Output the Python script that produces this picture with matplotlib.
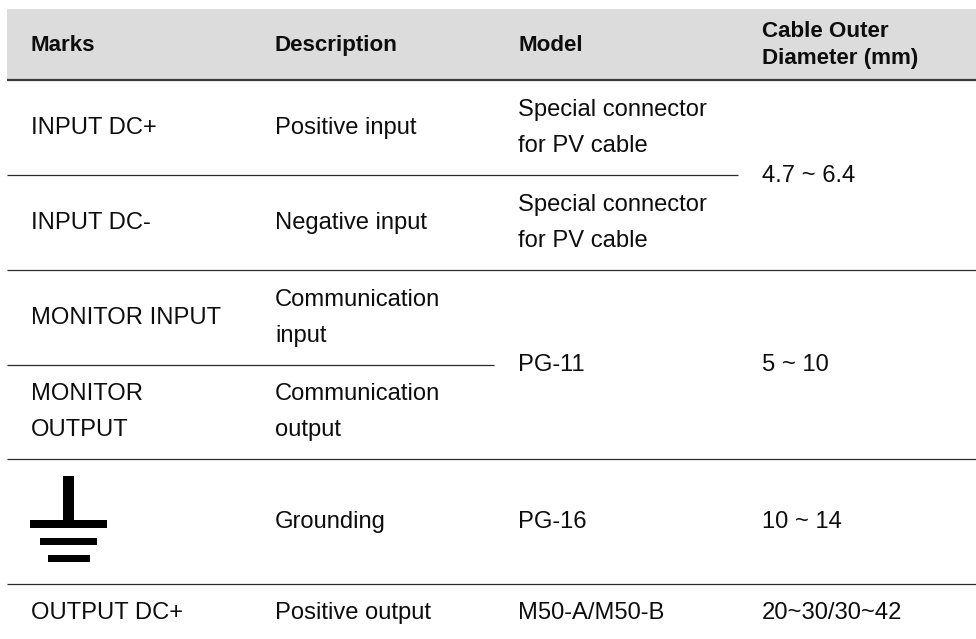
import matplotlib
matplotlib.use('Agg')
import matplotlib.pyplot as plt
from matplotlib.patches import Rectangle

plt.rcParams['font.family'] = ['Liberation Sans', 'DejaVu Sans']

# Table content
headers = ['Marks', 'Description', 'Model', 'Cable Outer\nDiameter (mm)']
marks = ['INPUT DC+', 'INPUT DC-', 'MONITOR INPUT', 'MONITOR\nOUTPUT', 'OUTPUT DC+']
descriptions = ['Positive input', 'Negative input', 'Communication\ninput',
                'Communication\noutput', 'Grounding', 'Positive output']
models = ['Special connector\nfor PV cable', 'Special connector\nfor PV cable',
          'PG-11', 'PG-16', 'M50-A/M50-B']
diameters = ['4.7 ~ 6.4', '5 ~ 10', '10 ~ 14', '20~30/30~42']

# Layout, in pixels of the 976x639 picture
col_x = [31, 275, 518.3, 761.7]
marks_y = [134, 229, 324, 418, 619]
desc_y = [134, 229, 324, 418, 528, 619]
model_y = [134, 229, 371, 528, 619]
diam_y = [182, 371, 528, 619]
# y, x start, x end
rules = [(174.5, 7, 738), (269.5, 7, 976), (364.5, 7, 494), (459, 7, 976), (584, 7, 976)]
TEXT = '#0d0d0d'
BODY_SIZE = 17.1
HEAD_SIZE = 16.15


def put_cell(ax, x, y, label, size, gap, weight='normal'):
    # y is the middle baseline, multi-line cells are spread around it
    lines = label.split('\n')
    top = y - gap * (len(lines) - 1) / 2
    for i, line in enumerate(lines):
        ax.text(x, top + i * gap, line, fontsize=size, fontweight=weight,
                color=TEXT, ha='left', va='baseline')


fig = plt.figure(figsize=(9.76, 6.39), dpi=100)
ax = fig.add_axes([0, 0, 1, 1])
ax.set_xlim(0, 976)
ax.set_ylim(639, 0)
ax.axis('off')

# Header band
ax.add_patch(Rectangle((7, 9), 969, 70, facecolor='#dcdcdc', edgecolor='none'))
ax.plot([7, 976], [80, 80], color='#3a3a3a', lw=1.6, solid_capstyle='butt')

for y, x0, x1 in rules:
    ax.plot([x0, x1], [y, y], color='#2b2b2b', lw=0.9, solid_capstyle='butt')

for x, label in zip(col_x, headers):
    put_cell(ax, x, 51 if '\n' not in label else 50.5, label, HEAD_SIZE, 27, weight='bold')

for label, y in zip(marks, marks_y):
    put_cell(ax, col_x[0], y, label, BODY_SIZE, 36)
for label, y in zip(descriptions, desc_y):
    put_cell(ax, col_x[1], y, label, BODY_SIZE, 36)
for label, y in zip(models, model_y):
    put_cell(ax, col_x[2], y, label, BODY_SIZE, 36)
for label, y in zip(diameters, diam_y):
    put_cell(ax, col_x[3], y, label, BODY_SIZE, 36)

# Grounding symbol
ax.add_patch(Rectangle((63.3, 476), 10.2, 46, facecolor='black', edgecolor='none'))
ax.add_patch(Rectangle((30, 520.3), 77, 7.2, facecolor='black', edgecolor='none'))
ax.add_patch(Rectangle((40.3, 537.5), 56.3, 7, facecolor='black', edgecolor='none'))
ax.add_patch(Rectangle((47.5, 555), 42, 6.5, facecolor='black', edgecolor='none'))

fig.savefig('out.png', dpi=100, facecolor='white')
